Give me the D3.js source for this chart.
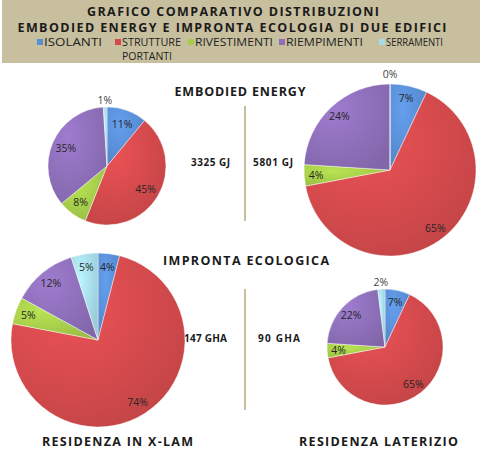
<!DOCTYPE html>
<html>
<head>
<meta charset="utf-8">
<script src="https://cdn.jsdelivr.net/npm/d3@7"></script>
<style>
  body { margin: 0; background: #fff; }
  svg { display: block; font-family: "Open Sans", "DejaVu Sans", sans-serif; }
</style>
</head>
<body>
<div id="chart"></div>
<script>
// categories and values (percentages)
var categories = ["ISOLANTI", "STRUTTURE PORTANTI", "RIVESTIMENTI", "RIEMPIMENTI", "SERRAMENTI"];
var xlamEnergy = [11, 45, 8, 35, 1];
var laterizioEnergy = [7, 65, 4, 24, 0];
var xlamFootprint = [4, 74, 5, 12, 5];
var laterizioFootprint = [7, 65, 4, 22, 2];
var totals = ["3325 GJ", "5801 GJ", "147 GHA", "90 GHA"];
var buildings = ["RESIDENZA IN X-LAM", "RESIDENZA LATERIZIO"];
var sections = ["EMBODIED ENERGY", "IMPRONTA ECOLOGICA"];

var colors = ["#5a8fd6", "#d44a4c", "#a6cd4a", "#8e6fba", "#a6dbe8"];
var tan = "#c8bf9e";

var width = 482, height = 452;

var svg = d3.select("#chart").append("svg")
    .attr("width", width)
    .attr("height", height);

// gradients for a soft 3D look
var defs = svg.append("defs");
colors.forEach(function (c, i) {
    var g = defs.append("radialGradient")
        .attr("id", "grad" + i)
        .attr("cx", "35%").attr("cy", "30%").attr("r", "80%");
    g.append("stop").attr("offset", "0%").attr("stop-color", d3.color(c).brighter(0.3));
    g.append("stop").attr("offset", "100%").attr("stop-color", d3.color(c).darker(0.25));
});

//Header band
svg.append("rect")
    .attr("x", 2).attr("y", 0)
    .attr("width", 478).attr("height", 63)
    .attr("fill", tan);

svg.append("text")
    .attr("x", 233).attr("y", 16)
    .attr("text-anchor", "middle")
    .attr("textLength", 292).attr("lengthAdjust", "spacing")
    .style("font-size", "12.5px").style("font-weight", "bold").attr("fill", "#1a1a1a")
    .text("GRAFICO COMPARATIVO DISTRIBUZIONI");

svg.append("text")
    .attr("x", 232).attr("y", 32)
    .attr("text-anchor", "middle")
    .attr("textLength", 429).attr("lengthAdjust", "spacing")
    .style("font-size", "12.5px").style("font-weight", "bold").attr("fill", "#1a1a1a")
    .text("EMBODIED ENERGY E IMPRONTA ECOLOGIA DI DUE EDIFICI");

// legend
var legendX = [37, 115, 188, 279, 379];
var legendWidths = [58, 59, 78, 77, 57];
var legend = svg.append("g");
categories.forEach(function (name, i) {
    legend.append("rect")
        .attr("x", legendX[i]).attr("y", 39)
        .attr("width", 6).attr("height", 6)
        .attr("fill", colors[i]);
    var words = name.split(" ");
    legend.append("text")
        .attr("x", legendX[i] + 7).attr("y", 46)
        .attr("textLength", legendWidths[i]).attr("lengthAdjust", "spacingAndGlyphs")
        .style("font-size", "10.5px").attr("fill", "#222")
        .text(words[0]);
    if (words[1]) {
        legend.append("text")
            .attr("x", legendX[i] + 7).attr("y", 60)
            .attr("textLength", 50).attr("lengthAdjust", "spacingAndGlyphs")
            .style("font-size", "10.5px").attr("fill", "#222")
            .text(words[1]);
    }
});

// section titles
svg.append("text")
    .attr("x", 240).attr("y", 96)
    .attr("text-anchor", "middle")
    .attr("textLength", 131).attr("lengthAdjust", "spacing")
    .style("font-size", "12.5px").style("font-weight", "bold").attr("fill", "#1a1a1a")
    .text(sections[0]);

svg.append("text")
    .attr("x", 246).attr("y", 265)
    .attr("text-anchor", "middle")
    .attr("textLength", 166).attr("lengthAdjust", "spacing")
    .style("font-size", "12.5px").style("font-weight", "bold").attr("fill", "#1a1a1a")
    .text(sections[1]);

// separators
svg.append("line").attr("x1", 245).attr("x2", 245).attr("y1", 106).attr("y2", 221)
    .attr("stroke", tan).attr("stroke-width", 2);
svg.append("line").attr("x1", 245).attr("x2", 245).attr("y1", 289).attr("y2", 410)
    .attr("stroke", tan).attr("stroke-width", 2);

// totals
var totalPos = [[191, 166, 39], [253, 166, 40], [184, 342, 43], [258, 342, 42]];
totals.forEach(function (t, i) {
    svg.append("text")
        .attr("x", totalPos[i][0]).attr("y", totalPos[i][1])
        .attr("textLength", totalPos[i][2]).attr("lengthAdjust", "spacing")
        .style("font-size", "10px").style("font-weight", "bold").attr("fill", "#1a1a1a")
        .text(t);
});

// building names
svg.append("text")
    .attr("x", 42).attr("y", 446)
    .attr("textLength", 151).attr("lengthAdjust", "spacing")
    .style("font-size", "12.5px").style("font-weight", "bold").attr("fill", "#1a1a1a")
    .text(buildings[0]);
svg.append("text")
    .attr("x", 299).attr("y", 446)
    .attr("textLength", 159).attr("lengthAdjust", "spacing")
    .style("font-size", "12.5px").style("font-weight", "bold").attr("fill", "#1a1a1a")
    .text(buildings[1]);

//Pies
var pie = d3.pie().sort(null).value(function (d) { return d; });

function drawPie(values, cx, cy, radius, labelFrac) {
    var g = svg.append("g").attr("transform", "translate(" + cx + "," + cy + ")");
    var arc = d3.arc().innerRadius(0).outerRadius(radius);
    var inside = d3.arc().innerRadius(radius * labelFrac).outerRadius(radius * labelFrac);
    var outside = d3.arc().innerRadius(radius * 1.12).outerRadius(radius * 1.12);
    var arcs = pie(values);

    g.selectAll("path")
        .data(arcs)
        .enter().append("path")
        .attr("d", arc)
        .attr("fill", function (d, i) { return "url(#grad" + i + ")"; })
        .attr("stroke", "rgba(255,255,255,0.55)")
        .attr("stroke-width", 0.8);

    g.selectAll("text")
        .data(arcs)
        .enter().append("text")
        .attr("transform", function (d) {
            var small = d.data < 3;
            var c = small ? outside.centroid(d) : inside.centroid(d);
            return "translate(" + c[0] + "," + (c[1] + 4) + ")";
        })
        .attr("text-anchor", "middle")
        .style("font-size", "10.5px")
        .attr("fill", function (d) { return d.data < 3 ? "#444" : "#262626"; })
        .text(function (d) { return d.data + "%"; });
}

drawPie(xlamEnergy, 107, 166, 59, 0.76);
drawPie(laterizioEnergy, 390, 170, 86, 0.86);
drawPie(xlamFootprint, 98, 340, 87, 0.85);
drawPie(laterizioFootprint, 385, 347, 58, 0.8);
</script>
</body>
</html>
